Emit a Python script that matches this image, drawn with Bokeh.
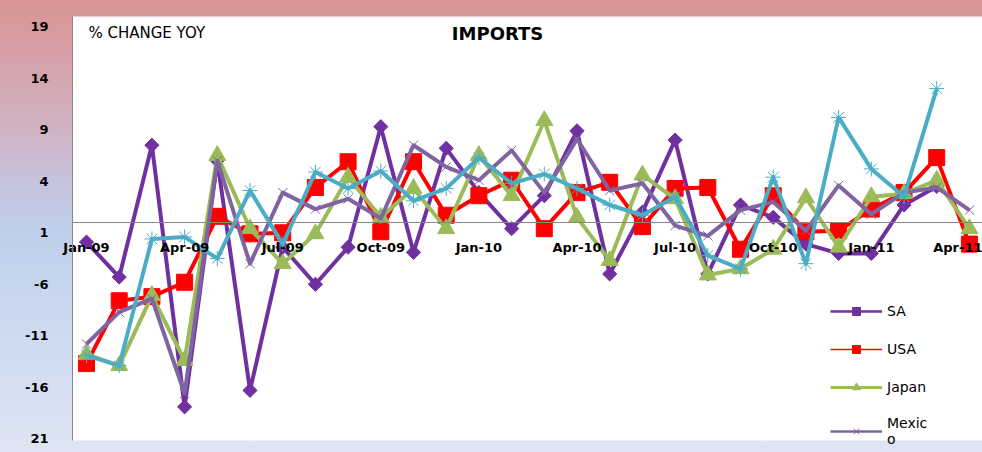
import math
from bokeh.plotting import figure
from bokeh.models import (FixedTicker, Label, Legend, LegendItem, LinearAxis, BoxAnnotation,
                          Range1d, ColumnDataSource)
from bokeh.embed import file_html
from bokeh.resources import INLINE

nan = float("nan")

months = ["Jan-09", "Feb-09", "Mar-09", "Apr-09", "May-09", "Jun-09", "Jul-09", "Aug-09",
          "Sep-09", "Oct-09", "Nov-09", "Dec-09", "Jan-10", "Feb-10", "Mar-10", "Apr-10",
          "May-10", "Jun-10", "Jul-10", "Aug-10", "Sep-10", "Oct-10", "Nov-10", "Dec-10",
          "Jan-11", "Feb-11", "Mar-11", "Apr-11"]

sa = [-1.9, -5.3, 7.5, -17.9, 6.0, -16.3, -2.4, -6.0, -2.4, 9.3, -2.9, 7.2, 2.9, -0.6,
      2.6, 8.9, -5.0, 1.0, 8.0, -5.0, 1.7, 0.5, -2.1, -3.0, -3.0, 1.7, 3.5, nan]
usa = [-13.7, -7.6, -7.2, -5.8, 0.6, -1.1, -1.0, 3.4, 5.9, -0.9, 5.9, 0.7, 2.6, 4.1,
       -0.6, 2.9, 3.9, -0.4, 3.3, 3.4, -2.6, 2.6, -0.9, -0.8, 1.3, 2.9, 6.3, -2.1]
japan = [-12.8, -13.9, -7.1, -13.4, 6.5, -0.6, -4.0, -1.1, 4.4, 0.5, 3.3, -0.6, 6.5, 2.6,
         9.9, 0.5, -3.7, 4.6, 2.3, -5.1, -4.5, -2.6, 2.4, -2.4, 2.5, 2.8, 4.1, -0.6]
mexico = [-11.8, -8.7, -7.4, -16.6, 6.0, -4.0, 2.9, 1.3, 2.3, 0.4, 7.5, 5.4, 4.1, 7.0,
          2.9, 8.1, 3.1, 3.8, -0.3, -1.3, 1.2, 2.0, -0.8, 3.6, 0.8, 2.9, 3.4, 1.2]
fifth = [-12.9, -13.9, -1.6, -1.4, -3.5, 3.1, -2.1, 4.9, 3.3, 5.0, 2.1, 3.3, 6.3, 3.8,
         4.7, 3.3, 1.7, 0.7, 2.5, -3.2, -4.5, 4.4, -4.0, 10.2, 5.2, 2.5, 13.0, nan]

y_ticks = [-21, -16, -11, -6, -1, 4, 9, 14, 19]
y_tick_labels = ["21", "-16", "-11", "-6", "1", "4", "9", "14", "19"]
y_min, y_max = -21.17, 20.0          # extent of the plot area (value axis)
x_label_step = 3

title_text = "IMPORTS"
subtitle_text = "% CHANGE YOY"
legend_labels = ["SA", "USA", "Japan", "Mexic\no"]

# ---------------------------------------------------------------- figure
W, H = 982, 452
FONT = "DejaVu Sans"

idx = list(range(len(months)))
src = ColumnDataSource(dict(x=idx, sa=sa, usa=usa, japan=japan, mexico=mexico, fifth=fifth))

# the frame covers the whole canvas; the white plot area is drawn inside it
x_left_area = -0.428
p = figure(width=W, height=H, output_backend="svg", toolbar_location=None,
           x_range=Range1d(-2.63, 27.40), y_range=Range1d(-22.33, 21.55),
           x_axis_location=None, y_axis_location=None)
p.min_border = 0
p.outline_line_color = None
p.background_fill_color = None
p.border_fill_color = None
p.styles = {"background": "linear-gradient(to bottom, #d99594 0%, #d6a0a6 12%, "
                          "#d0b2c2 28%, #c7c2dc 40%, #bfcfeb 51%, #ccdaf0 73%, "
                          "#dee5f3 100%)"}
p.xgrid.visible = False
p.ygrid.visible = False

p.add_layout(BoxAnnotation(left=x_left_area, bottom=y_min, top=y_max, fill_color="white",
                           fill_alpha=1, line_color=None, level="underlay"))

# value axis
yaxis = LinearAxis(fixed_location=x_left_area, bounds=(y_min, y_max),
                   ticker=FixedTicker(ticks=y_ticks),
                   major_label_overrides={t: l for t, l in zip(y_ticks, y_tick_labels)},
                   axis_line_color="#868686", major_tick_line_color=None,
                   minor_tick_line_color=None, major_label_standoff=18,
                   major_label_text_font=FONT, major_label_text_font_style="bold",
                   major_label_text_font_size="13px", major_label_text_color="black")
p.add_layout(yaxis, "left")

# category axis crossing at zero
xticks = idx[::x_label_step]
xaxis = LinearAxis(fixed_location=0, bounds=(x_left_area, 27.40),
                   ticker=FixedTicker(ticks=xticks),
                   major_label_overrides={i: months[i] for i in xticks},
                   axis_line_color="#868686", axis_line_width=1,
                   major_tick_line_color=None, minor_tick_line_color=None,
                   major_label_standoff=12, major_label_text_font=FONT,
                   major_label_text_font_style="bold", major_label_text_font_size="13px",
                   major_label_text_color="black")
p.add_layout(xaxis, "below")

# series
lw = 4
r_sa_l = p.line("x", "sa", source=src, line_color="#7030A0", line_width=lw, line_join="round")
r_sa_m = p.scatter("x", "sa", source=src, marker="square", angle=math.pi / 4, size=10,
                   fill_color="#7030A0", line_color="#7030A0")
r_us_l = p.line("x", "usa", source=src, line_color="#FF0000", line_width=lw, line_join="round")
r_us_m = p.scatter("x", "usa", source=src, marker="square", size=16,
                   fill_color="#FF0000", line_color="#FF0000")
r_jp_l = p.line("x", "japan", source=src, line_color="#9BBB59", line_width=lw, line_join="round")
r_jp_m = p.scatter("x", "japan", source=src, marker="triangle", size=17,
                   fill_color="#9BBB59", line_color="#9BBB59")
r_mx_l = p.line("x", "mexico", source=src, line_color="#8064A2", line_width=lw, line_join="round")
r_mx_m = p.scatter("x", "mexico", source=src, marker="x", size=13,
                   line_color="#8064A2", line_width=1)
r_5_l = p.line("x", "fifth", source=src, line_color="#4BACC6", line_width=lw, line_join="round")
r_5_m = p.scatter("x", "fifth", source=src, marker="asterisk", size=15,
                  line_color="#4BACC6", line_width=1)

# titles inside the plot area
p.add_layout(Label(x=12.57, y=18.35, text=title_text, text_font=FONT, text_font_style="bold",
                   text_font_size="18px", text_color="black", text_align="center",
                   text_baseline="middle"))
p.add_layout(Label(x=0.06, y=18.35, text=subtitle_text, text_font=FONT,
                   text_font_size="15px", text_color="black", text_align="left",
                   text_baseline="middle"))

# thin legend swatches (renderers with a single blank point that only style the legend)
e = dict(x=[nan], y=[nan])
l_sa = [p.line(**e, line_color="#7030A0", line_width=2.5),
        p.scatter(**e, marker="square", angle=math.pi / 4, size=7, fill_color="#7030A0",
                  line_color="#7030A0")]
l_us = [p.line(**e, line_color="#FF0000", line_width=1.5),
        p.scatter(**e, marker="square", size=10, fill_color="#FF0000", line_color="#FF0000")]
l_jp = [p.line(**e, line_color="#9BBB59", line_width=3),
        p.scatter(**e, marker="triangle", size=10, fill_color="#9BBB59", line_color="#9BBB59")]
l_mx = [p.line(**e, line_color="#8064A2", line_width=2.5),
        p.scatter(**e, marker="x", size=9, line_color="#8064A2", line_width=1)]

legend = Legend(items=[
    LegendItem(label=legend_labels[0], renderers=l_sa),
    LegendItem(label=legend_labels[1], renderers=l_us),
    LegendItem(label=legend_labels[2], renderers=l_jp),
    LegendItem(label=legend_labels[3], renderers=l_mx),
], location=(830, 5))
legend.background_fill_alpha = 0
legend.border_line_color = None
legend.padding = 0
legend.margin = 0
legend.spacing = 18
legend.glyph_width = 52
legend.glyph_height = 20
legend.label_height = 20
legend.label_standoff = 5
legend.label_text_font = FONT
legend.label_text_font_size = "14px"
legend.label_text_color = "black"
p.add_layout(legend)

open("out.html", "w").write(file_html(p, INLINE))
